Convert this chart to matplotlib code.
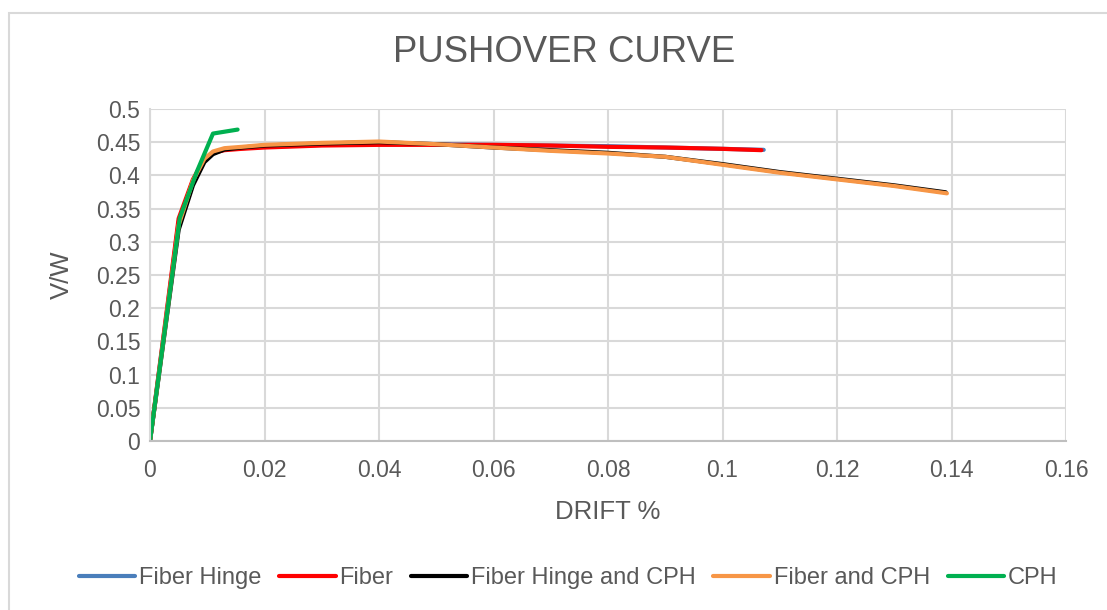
import matplotlib
matplotlib.use("Agg")
import matplotlib.pyplot as plt
from matplotlib.patches import Rectangle

plt.rcParams['font.family'] = ['Liberation Sans', 'DejaVu Sans']

# Pushover results: drift (%) vs base shear ratio V/W
fiber_hinge_x = [0, 0.005, 0.0075, 0.0095, 0.011, 0.013, 0.016, 0.02, 0.03, 0.04,
                 0.05, 0.06, 0.07, 0.08, 0.09, 0.1, 0.1072]
fiber_hinge_y = [0, 0.33, 0.392, 0.424, 0.434, 0.439, 0.441, 0.443, 0.446, 0.447,
                 0.447, 0.446, 0.445, 0.444, 0.442, 0.440, 0.4385]

fiber_x = [0, 0.005, 0.0075, 0.0095, 0.011, 0.013, 0.016, 0.02, 0.03, 0.04,
           0.05, 0.06, 0.07, 0.08, 0.09, 0.1, 0.1068]
fiber_y = [0, 0.335, 0.394, 0.425, 0.434, 0.438, 0.440, 0.442, 0.445, 0.446,
           0.446, 0.446, 0.445, 0.443, 0.442, 0.440, 0.438]

fh_cph_x = [0, 0.005, 0.0075, 0.0095, 0.011, 0.013, 0.016, 0.02, 0.03, 0.04,
            0.05, 0.06, 0.07, 0.08, 0.09, 0.1, 0.11, 0.12, 0.13, 0.139]
fh_cph_y = [0, 0.318, 0.385, 0.42, 0.432, 0.439, 0.442, 0.445, 0.448, 0.450,
            0.447, 0.442, 0.438, 0.434, 0.428, 0.417, 0.405, 0.395, 0.385, 0.3745]

f_cph_x = [0, 0.005, 0.0075, 0.0095, 0.011, 0.013, 0.016, 0.02, 0.03, 0.04,
           0.05, 0.06, 0.07, 0.08, 0.09, 0.1, 0.11, 0.12, 0.13, 0.1392]
f_cph_y = [0, 0.325, 0.392, 0.425, 0.436, 0.441, 0.443, 0.446, 0.449, 0.451,
           0.447, 0.442, 0.437, 0.433, 0.428, 0.416, 0.404, 0.394, 0.384, 0.373]

cph_x = [0, 0.0052, 0.0082, 0.011, 0.0153]
cph_y = [0, 0.336, 0.406, 0.463, 0.469]

x_ticks = [0, 0.02, 0.04, 0.06, 0.08, 0.1, 0.12, 0.14, 0.16]
x_labels = ['0', '0.02', '0.04', '0.06', '0.08', '0.1', '0.12', '0.14', '0.16']
y_ticks = [0, 0.05, 0.1, 0.15, 0.2, 0.25, 0.3, 0.35, 0.4, 0.45, 0.5]
y_labels = ['0', '0.05', '0.1', '0.15', '0.2', '0.25', '0.3', '0.35', '0.4', '0.45', '0.5']

TEXT = '#595959'
GRID = '#d9d9d9'

fig = plt.figure(figsize=(11.07, 6.10), dpi=100)
ax = fig.add_axes([150 / 1107, 1 - 441 / 610, (1066 - 150) / 1107, (441 - 109) / 610])

# chart frame
fig.patches.append(Rectangle((9 / 1107, -0.05), 1.2, 1 - 13 / 610 + 0.05,
                             transform=fig.transFigure, fill=False,
                             edgecolor='#d9d9d9', linewidth=1.5))

lw = 3.0
ax.plot(fiber_hinge_x, fiber_hinge_y, color='#4a7ebb', lw=lw, label='Fiber Hinge',
        solid_capstyle='round')
ax.plot(fiber_x, fiber_y, color='#ff0000', lw=lw, label='Fiber', solid_capstyle='round')
ax.plot(fh_cph_x, fh_cph_y, color='#000000', lw=lw, label='Fiber Hinge and CPH',
        solid_capstyle='round')
ax.plot(f_cph_x, f_cph_y, color='#f79646', lw=lw, label='Fiber and CPH',
        solid_capstyle='round')
ax.plot(cph_x, cph_y, color='#00b050', lw=lw, label='CPH', solid_capstyle='round')

ax.set_xlim(0, 0.16)
ax.set_ylim(0, 0.5)
ax.set_xticks(x_ticks)
ax.set_xticklabels(x_labels)
ax.set_yticks(y_ticks)
ax.set_yticklabels(y_labels)
ax.grid(True, color=GRID, linewidth=1.5)
ax.set_axisbelow(True)
for side in ['top', 'right']:
    ax.spines[side].set_visible(False)
ax.spines['left'].set_color(GRID)
ax.spines['left'].set_linewidth(1.5)
ax.spines['bottom'].set_color('#bfbfbf')
ax.spines['bottom'].set_linewidth(1.5)
ax.tick_params(length=0, labelsize=16.5, labelcolor=TEXT)
ax.tick_params(axis='x', pad=13)
ax.tick_params(axis='y', pad=7)

ax.set_xlabel('DRIFT %', fontsize=18.5, color=TEXT, labelpad=13)
ax.set_ylabel('V/W', fontsize=18.5, color=TEXT, labelpad=16)
fig.text(564 / 1107, 1 - 53 / 610, 'PUSHOVER CURVE', fontsize=26.3, color=TEXT,
         ha='center', va='center')

leg = fig.legend(loc='center', bbox_to_anchor=(568 / 1107, 1 - 578 / 610), ncol=5,
                 frameon=False, fontsize=17, handlelength=2.4, handletextpad=0.15,
                 columnspacing=0.75)
for t in leg.get_texts():
    t.set_color(TEXT)

fig.savefig('out.png', dpi=100)
